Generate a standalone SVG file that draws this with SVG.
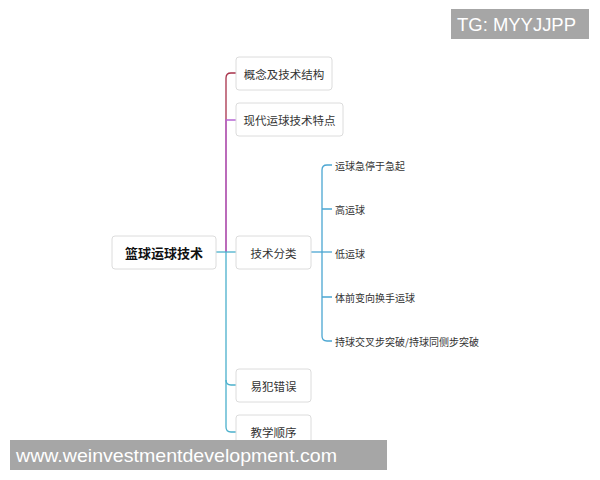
<svg xmlns="http://www.w3.org/2000/svg" width="600" height="480" viewBox="0 0 600 480">
<style>
.box{fill:#fff;stroke:#dcdcdc;stroke-width:1}
.t{font-family:"Noto Sans CJK SC","Liberation Sans",sans-serif;font-size:11.5px;fill:#333;text-anchor:middle;dominant-baseline:central}
.s{font-family:"Noto Sans CJK SC","Liberation Sans",sans-serif;font-size:10px;fill:#333;dominant-baseline:central}
.ln{fill:none;stroke-width:1.3}
.wm{font-family:"Liberation Sans","DejaVu Sans",sans-serif;fill:#fff;dominant-baseline:central}
</style>
<rect width="600" height="480" fill="#fff"/>
<g id="connectors">
<path class="ln" stroke="#a8324a" d="M226 252 V78 Q226 73 231 73 H236"/>
<path class="ln" stroke="#b665d4" d="M226 252 V120 H236"/>
<path class="ln" stroke="#4ab0cc" d="M216 252 H236"/>
<path class="ln" stroke="#4ab0cc" d="M226 252 V380 Q226 385 231 385 H236"/>
<path class="ln" stroke="#4ab0cc" d="M226 380 V427 Q226 432 231 432 H236"/>
<path class="ln" stroke="#4ba6d2" d="M311 252 H332"/>
<path class="ln" stroke="#4ba6d2" d="M332 165 H327 Q322 165 322 170 V336 Q322 341 327 341 H332"/>
<path class="ln" stroke="#4ba6d2" d="M322 209 H332 M322 297 H332"/>
</g>
<g id="root"><rect class="box" x="112" y="236" width="104" height="33" rx="3"/><text class="t" x="164" y="252.5" style="font-weight:bold;font-size:13px;fill:#111">篮球运球技术</text></g>
<g id="n1"><rect class="box" x="236" y="57" width="96" height="33" rx="3"/><text class="t" x="284" y="73.5">概念及技术结构</text></g>
<g id="n2"><rect class="box" x="236" y="103" width="107" height="33" rx="3"/><text class="t" x="289.5" y="119.5">现代运球技术特点</text></g>
<g id="n3"><rect class="box" x="236" y="236" width="75" height="33" rx="3"/><text class="t" x="273.5" y="252.5">技术分类</text></g>
<g id="n4"><rect class="box" x="236" y="369" width="75" height="33" rx="3"/><text class="t" x="273.5" y="385.5">易犯错误</text></g>
<g id="n5"><rect class="box" x="236" y="415" width="75" height="33" rx="3"/><text class="t" x="273.5" y="431.5">教学顺序</text></g>
<g id="s1"><text class="s" x="335" y="165">运球急停于急起</text></g>
<g id="s2"><text class="s" x="335" y="209">高运球</text></g>
<g id="s3"><text class="s" x="335" y="253">低运球</text></g>
<g id="s4"><text class="s" x="335" y="297">体前变向换手运球</text></g>
<g id="s5"><text class="s" x="335" y="341">持球交叉步突破/持球同侧步突破</text></g>
<g id="wm1"><rect x="451" y="9" width="138" height="30" fill="#a6a6a6"/><text class="wm" x="457" y="24.5" style="font-size:18px" textLength="119" lengthAdjust="spacingAndGlyphs">TG: MYYJJPP</text></g>
<g id="wm2"><rect x="10" y="440" width="377" height="30" fill="#a6a6a6"/><text class="wm" x="16" y="455" style="font-size:19px" textLength="321" lengthAdjust="spacingAndGlyphs">www.weinvestmentdevelopment.com</text></g>
</svg>
